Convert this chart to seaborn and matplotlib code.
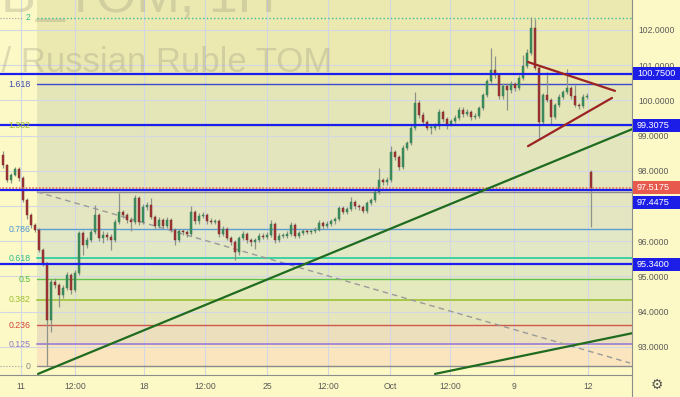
import numpy as np
import pandas as pd
import matplotlib
matplotlib.use("Agg")
import matplotlib.pyplot as plt
from matplotlib.patches import Rectangle
from matplotlib.lines import Line2D
from matplotlib.transforms import IdentityTransform
import seaborn as sns

# ---------------- data ----------------
closes = [98.16, 97.74, 97.88, 98.05, 97.80, 97.17, 96.74, 96.46, 96.32, 95.75,
          95.38, 93.76, 94.85, 94.76, 94.47, 94.67, 95.04, 94.61, 95.10, 96.23,
          95.89, 96.03, 96.26, 96.74, 96.09, 96.18, 96.12, 96.03, 96.55, 96.83,
          96.74, 96.60, 96.55, 97.23, 96.55, 96.97, 97.03, 96.69, 96.43, 96.60,
          96.43, 96.60, 96.32, 96.03, 96.29, 96.26, 96.20, 96.83, 96.57, 96.72,
          96.74, 96.57, 96.55, 96.57, 96.20, 96.35, 96.09, 95.98, 95.69, 96.09,
          96.20, 96.03, 95.98, 96.03, 96.15, 96.12, 96.18, 96.49, 96.03, 96.15,
          96.15, 96.20, 96.46, 96.15, 96.23, 96.29, 96.26, 96.29, 96.32, 96.52,
          96.43, 96.49, 96.57, 96.63, 96.94, 96.83, 96.91, 97.11, 97.00, 96.97,
          96.86, 97.09, 97.17, 97.40, 97.74, 97.68, 97.74, 98.53, 98.39, 98.11,
          98.65, 98.79, 99.22, 99.93, 99.59, 99.39, 99.22, 99.22, 99.27, 99.67,
          99.47, 99.33, 99.41, 99.50, 99.73, 99.61, 99.67, 99.53, 99.56, 99.78,
          100.15, 100.55, 100.86, 100.72, 100.13, 100.41, 100.30, 100.47, 100.35, 100.64,
          100.98, 101.35, 102.06, 100.92, 99.39, 100.15, 100.01, 99.53, 99.87, 100.10,
          100.24, 100.35, 100.13, 99.87, 99.84, 100.10, 100.13, 97.5175]
highs = [98.55, 98.20, 97.95, 98.10, 98.10, 97.85, 97.22, 96.80, 96.52, 96.38,
         95.80, 95.42, 94.92, 94.95, 94.82, 94.75, 95.12, 95.10, 95.18, 96.30,
         96.30, 96.12, 96.35, 97.03, 96.80, 96.30, 96.25, 96.20, 96.62, 97.37,
         96.90, 96.80, 96.68, 97.30, 97.28, 97.05, 97.10, 97.23, 96.75, 96.68,
         96.66, 96.70, 96.65, 96.38, 96.36, 96.36, 96.32, 97.00, 96.90, 96.80,
         96.82, 96.80, 96.65, 96.64, 96.62, 96.42, 96.40, 96.15, 96.03, 96.15,
         96.28, 96.26, 96.10, 96.10, 96.22, 96.22, 96.25, 96.60, 96.55, 96.22,
         96.22, 96.28, 96.55, 96.52, 96.30, 96.36, 96.34, 96.35, 96.40, 96.60,
         96.58, 96.56, 96.64, 96.70, 97.00, 97.00, 96.98, 97.25, 97.16, 97.06,
         97.02, 97.15, 97.24, 97.48, 98.08, 97.80, 97.82, 98.70, 98.60, 98.45,
         98.72, 98.86, 99.30, 100.24, 100.00, 99.66, 99.45, 99.30, 99.35, 99.75,
         99.72, 99.52, 99.48, 99.58, 99.82, 99.80, 99.75, 99.72, 99.63, 99.85,
         100.22, 100.62, 101.49, 101.25, 100.78, 100.48, 100.50, 100.55, 100.52, 100.72,
         101.30, 101.45, 102.37, 102.30, 100.98, 100.22, 100.81, 100.06, 99.94, 100.17,
         100.30, 100.90, 100.42, 100.44, 99.92, 100.18, 100.20, 98.03]
lows = [98.08, 97.68, 97.66, 97.84, 97.72, 97.10, 96.62, 96.38, 96.25, 95.68,
        95.30, 92.45, 93.42, 94.66, 94.13, 94.40, 94.60, 94.50, 94.55, 95.05,
        95.60, 95.82, 95.98, 96.20, 96.00, 95.95, 96.02, 95.75, 95.98, 96.50,
        96.65, 96.52, 96.30, 96.48, 96.45, 96.50, 96.90, 96.62, 96.35, 96.38,
        96.36, 96.38, 96.25, 95.88, 95.98, 96.18, 96.12, 96.15, 96.50, 96.50,
        96.65, 96.50, 96.48, 96.48, 96.12, 96.15, 96.02, 95.90, 95.47, 95.62,
        96.02, 95.96, 95.85, 95.78, 95.98, 96.05, 96.05, 96.12, 95.96, 95.98,
        96.08, 96.10, 96.15, 96.08, 96.10, 96.18, 96.20, 96.20, 96.22, 96.28,
        96.36, 96.38, 96.44, 96.50, 96.58, 96.76, 96.76, 96.85, 96.92, 96.90,
        96.80, 96.80, 97.02, 97.10, 97.35, 97.60, 97.60, 97.68, 98.30, 98.02,
        98.05, 98.58, 98.72, 99.15, 99.50, 99.30, 99.15, 99.05, 99.15, 99.20,
        99.40, 99.20, 99.26, 99.35, 99.45, 99.54, 99.55, 99.45, 99.46, 99.50,
        99.72, 100.10, 100.50, 100.65, 100.05, 100.05, 99.73, 100.22, 100.28, 100.30,
        100.58, 100.92, 101.30, 100.85, 98.93, 99.32, 99.95, 99.30, 99.48, 99.80,
        100.05, 100.18, 100.05, 99.80, 99.75, 99.78, 100.04, 96.40]
open_first = 98.45
open_gaps = {147: 97.97}

xtick_pos = [4.5, 18, 35.25, 50.5, 66, 81.25, 96.75, 111.75, 127.75, 146.25]
xtick_labels = ["11", "12:00", "18", "12:00", "25", "12:00", "Oct", "12:00", "9", "12"]
ytick_values = [93, 94, 95, 96, 97, 98, 99, 100, 101, 102]
ytick_hidden = [97]  # covered by the price boxes in the reference

fib_low, fib_high = 92.45, 97.40
fib_start = 8.5
fib_levels = [0, 0.125, 0.236, 0.382, 0.5, 0.618, 0.786, 1, 1.382, 1.618, 2]
fib_labels = ["0", "0.125", "0.236", "0.382", "0.5", "0.618", "0.786", "", "1.382", "1.618", "2"]

hline_prices = [100.75, 99.3075, 97.4475, 95.34]
last_price = 97.5175

green_line1_x, green_line1_y = [8.75, 160], [92.23, 99.31]
green_line2_x, green_line2_y = [108, 160], [92.23, 93.45]
tri_upper_x, tri_upper_y = [131.25, 153], [101.09, 100.27]
tri_lower_x, tri_lower_y = [131.25, 152.25], [98.70, 100.07]
dashed_x, dashed_y = [8.5, 156.75], [97.40, 92.54]

# ---------------- style ----------------
sns.set_style("white")
plt.rcParams['font.family'] = ['Liberation Sans', 'DejaVu Sans']

BG = '#fdf9c6'
fib_line_colors = ['#8a8a8a', '#a58ad2', '#d0574a', '#a9c74a', '#62c24c', '#3fd0a2',
                   '#5d9dd6', '#8a8a8a', '#a9c74a', '#3a4bd0', '#3cbf9a']
fib_label_colors = ['#8a8a8a', '#8e76c8', '#d0453a', '#9cbf2e', '#4cbc3c', '#2bb891',
                    '#4e94cf', '#8a8a8a', '#9cbf2e', '#3a4bb0', '#2fb68f']
band_colors = ['#fae5bf', '#ecdfbd', '#e6e6bd', '#e4e9be', '#e2e8c2', '#e2e7c5',
               '#e4e6c2', '#e3e5bd', '#e4e6b8', '#ebe8b0']
top_band = '#ebe8b0'

fig = plt.figure(figsize=(6.8, 3.97), dpi=100, facecolor=BG)
ax = fig.add_axes([0, 22 / 397, 632 / 680, 375 / 397])
ax.set_facecolor(BG)
XL = (-0.75, 157.25)
YL = (92.199, 102.852)

# fib bands and levels
fib_prices = [fib_low + lv * (fib_high - fib_low) for lv in fib_levels]
for k in range(len(fib_levels) - 1):
    ax.fill_between([fib_start, 170], fib_prices[k], fib_prices[k + 1],
                    color=band_colors[k], lw=0, zorder=0.2)
ax.fill_between([fib_start, 170], fib_prices[-1], 110, color=top_band, lw=0, zorder=0.2)

for k, (lv, p) in enumerate(zip(fib_levels, fib_prices)):
    ls = ':' if lv == 2 else '-'
    lw = 1.4 if lv in (0.382, 0.125, 0.618) else 1.0
    ax.plot([fib_start, 170], [p, p], color=fib_line_colors[k], lw=lw, ls=ls, zorder=1.2)
    if fib_labels[k]:
        ax.text(6.9, p, fib_labels[k], ha='right', va='center', fontsize=6.3,
                color=fib_label_colors[k], zorder=5)
    if lv in (0, 2):
        ax.plot([XL[0], 5.0], [p, p], color='#9a9a9a', lw=0.8, ls=':', zorder=1.2)

# watermark
ax.text(332 / 680, (397 - 72) / 397, 'US Dollar / Russian Ruble TOM', transform=fig.transFigure,
        ha='right', va='baseline', fontsize=25, color='#8f8c78', alpha=0.28, zorder=0.6)
ax.text(275 / 680, (397 - 12) / 397, 'USDRUB_TOM, 1H', transform=fig.transFigure,
        ha='right', va='baseline', fontsize=37.5, color='#8f8c78', alpha=0.28, zorder=0.6)

# candles
c = np.array(closes)
o = np.array([open_first] + closes[:-1])
for idx, val in open_gaps.items():
    o[idx] = val
h = np.array(highs)
l = np.array(lows)
x = np.arange(len(c))
df = pd.DataFrame({'x': x, 'open': o, 'close': c, 'high': h, 'low': l})
up = df['close'] >= df['open']
ax.vlines(df['x'], df['low'], df['high'], color='#8d9386', lw=0.9, zorder=2)
bottom = np.minimum(df['open'], df['close'])
height = np.maximum(np.abs(df['close'] - df['open']), 0.02)
ax.bar(df['x'][up], height[up], bottom=bottom[up], width=0.7, color='#3d8d5f',
       edgecolor='#2f7a4f', lw=0.3, zorder=2.1)
ax.bar(df['x'][~up], height[~up], bottom=bottom[~up], width=0.7, color='#9e3636',
       edgecolor='#7e2626', lw=0.3, zorder=2.1)

# horizontal drawn lines
for p in hline_prices:
    ax.plot([XL[0] - 5, 170], [p, p], color='#1c1ef0', lw=1.6, zorder=3)
ax.plot([XL[0] - 5, 170], [last_price, last_price], color='#e8734f', lw=1.2,
        ls=(0, (1, 1)), zorder=2.9)

# trend lines
sns.lineplot(x=green_line1_x, y=green_line1_y, ax=ax, color='#1f6b1f', lw=1.6, zorder=3.2)
sns.lineplot(x=green_line2_x, y=green_line2_y, ax=ax, color='#1f6b1f', lw=1.6, zorder=3.2)
sns.lineplot(x=tri_upper_x, y=tri_upper_y, ax=ax, color='#9b2323', lw=1.6, zorder=3.2)
sns.lineplot(x=tri_lower_x, y=tri_lower_y, ax=ax, color='#9b2323', lw=1.6, zorder=3.2)
ax.plot(dashed_x, dashed_y, color='#9a9a9a', lw=1.0, ls=(0, (4, 3)), zorder=1.5)

# axes
ax.set_xlim(*XL)
ax.set_ylim(*YL)
ax.set_xlabel('')
ax.set_ylabel('')
ax.set_xticks(xtick_pos)
ax.set_xticklabels(xtick_labels)
ax.set_yticks(ytick_values)
ax.set_yticklabels(["" if v in ytick_hidden else f"{v:.4f}" for v in ytick_values])
ax.yaxis.tick_right()
ax.set_axisbelow(True)
ax.grid(True, color='#d3d7e4', lw=0.8)
ax.tick_params(axis='y', length=0, pad=4.3, labelsize=6.2, labelcolor='#5a5a5a')
ax.tick_params(axis='x', length=0, pad=5, labelsize=6.2, labelcolor='#5a5a5a')
for s in ['top', 'left']:
    ax.spines[s].set_visible(False)
for s in ['right', 'bottom']:
    ax.spines[s].set_color('#8c8c8c')
    ax.spines[s].set_linewidth(0.8)

fig.add_artist(Line2D([632, 632], [0, 22], transform=IdentityTransform(), color='#8c8c8c', lw=0.8))

# price boxes on right axis
box_prices = [100.75, 99.3075, 97.5175, 97.4475, 95.34]
box_colors = ['#1c1ee8', '#1c1ee8', '#e6594c', '#1c1ee8', '#1c1ee8']
box_shift = [0, -1, 0, -12, 0]
for p, col, sh in zip(box_prices, box_colors, box_shift):
    yd = ax.transData.transform((0, p))[1] + sh
    fig.add_artist(Rectangle((633, yd - 6.5), 47, 13, transform=IdentityTransform(),
                             facecolor=col, edgecolor='none', zorder=5))
    fig.text(637 / 680, yd / 397, f"{p:.4f}", color='white', fontsize=6.6,
             va='center', ha='left', zorder=6)

fig.text(657 / 680, 12 / 397, '\u2699', family='DejaVu Sans', fontsize=10,
         color='#555555', ha='center', va='center')

fig.savefig('out.png', dpi=100, facecolor=BG)
